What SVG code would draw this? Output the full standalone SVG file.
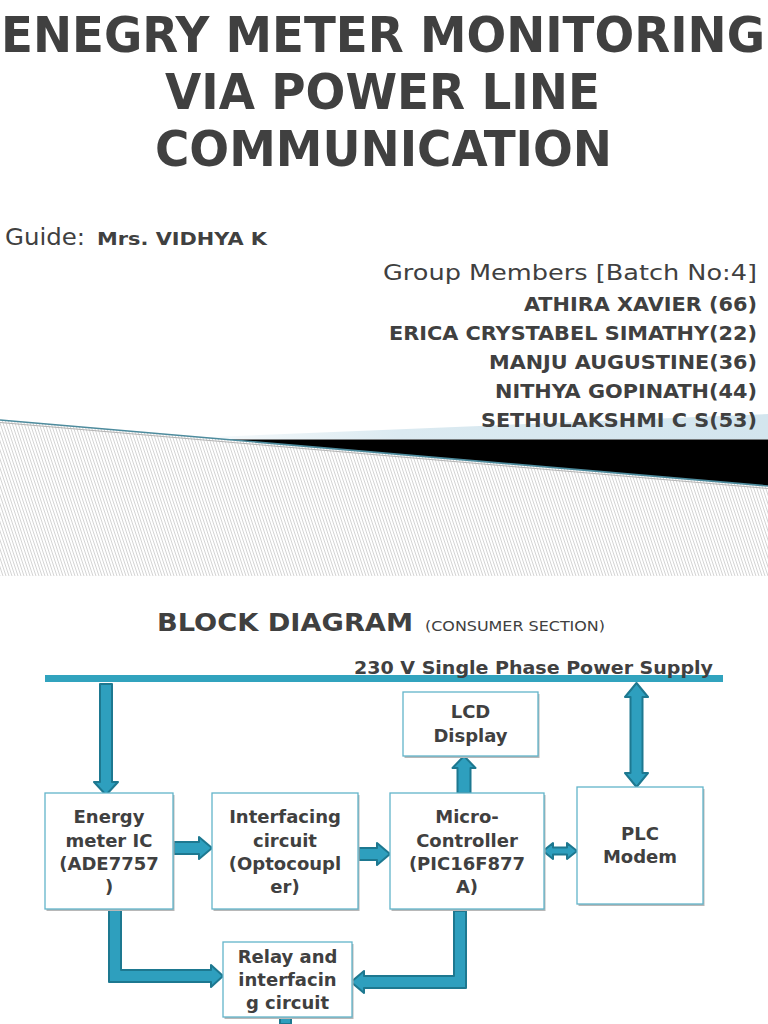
<svg xmlns="http://www.w3.org/2000/svg" width="768" height="1024" viewBox="0 0 768 1024">
<defs>
<style>
.t{font-family:"DejaVu Sans","Liberation Sans",sans-serif;fill:#404040}
.tc{font-family:"DejaVu Sans Condensed","DejaVu Sans","Liberation Sans",sans-serif;font-weight:bold;fill:#404040}
.b{font-weight:bold}
.node rect.box{fill:#fff;stroke:#62b4ca;stroke-width:1.3}
.node rect.sh{fill:#b8b8b8}
.node text{font-family:"DejaVu Sans","Liberation Sans",sans-serif;font-weight:bold;font-size:18px;fill:#404040;text-anchor:middle}
.arr{fill:#2e9fbe;stroke:#1d7890;stroke-width:2;stroke-linejoin:round}
</style>
<pattern id="hatch" patternUnits="userSpaceOnUse" width="3" height="9">
<rect width="3" height="9" fill="#ffffff"/>
<path d="M-1,-3 L3,9 M2,-3 L6,9 M-4,-3 L0,9" stroke="#cfcfcf" stroke-width="0.9"/>
</pattern>
<linearGradient id="lb" x1="0" y1="0" x2="1" y2="0">
<stop offset="0" stop-color="#ffffff"/>
<stop offset="0.4" stop-color="#dbeaf1"/>
<stop offset="1" stop-color="#d3e5ee"/>
</linearGradient>
</defs>
<rect width="768" height="1024" fill="#ffffff"/>

<!-- decorative band -->
<g id="band">
<polygon points="150,439.5 768,414 768,439.5" fill="url(#lb)"/>
<polygon points="0,420 768,486 768,576 0,576" fill="url(#hatch)"/>
<polygon points="227,439.5 768,439.5 768,486" fill="#000000"/>
<line x1="0" y1="420" x2="768" y2="486" stroke="#4d8b9d" stroke-width="1.6"/>
<line x1="0" y1="422.5" x2="768" y2="488.5" stroke="#b5b5b5" stroke-width="1"/>
</g>

<!-- Title -->
<g id="title" class="tc" font-size="49" text-anchor="middle">
<text x="383" y="52" textLength="764" lengthAdjust="spacingAndGlyphs">ENEGRY METER MONITORING</text>
<text x="382.5" y="109" textLength="435" lengthAdjust="spacingAndGlyphs">VIA POWER LINE</text>
<text x="383.5" y="166" textLength="457" lengthAdjust="spacingAndGlyphs">COMMUNICATION</text>
</g>

<g id="guide">
<text class="t" x="5" y="245" font-size="23" textLength="80" lengthAdjust="spacingAndGlyphs">Guide:</text>
<text class="t b" x="97" y="245" font-size="17" textLength="170" lengthAdjust="spacingAndGlyphs">Mrs. VIDHYA K</text>
</g>

<g id="members" text-anchor="end">
<text class="t" x="757" y="280" font-size="22" textLength="374" lengthAdjust="spacingAndGlyphs">Group Members [Batch No:4]</text>
<g class="tc" font-size="19">
<text x="757" y="311" textLength="233" lengthAdjust="spacingAndGlyphs">ATHIRA XAVIER (66)</text>
<text x="757" y="340" textLength="368" lengthAdjust="spacingAndGlyphs">ERICA CRYSTABEL SIMATHY(22)</text>
<text x="757" y="369" textLength="268" lengthAdjust="spacingAndGlyphs">MANJU AUGUSTINE(36)</text>
<text x="757" y="398" textLength="262" lengthAdjust="spacingAndGlyphs">NITHYA GOPINATH(44)</text>
<text x="757" y="427" textLength="276" lengthAdjust="spacingAndGlyphs">SETHULAKSHMI C S(53)</text>
</g>
</g>

<!-- Block diagram heading -->
<g id="heading">
<text class="t b" x="157" y="631" font-size="25" textLength="256" lengthAdjust="spacingAndGlyphs">BLOCK DIAGRAM</text>
<text class="t" x="425" y="631" font-size="14" textLength="180" lengthAdjust="spacingAndGlyphs">(CONSUMER SECTION)</text>
</g>

<g id="supply">
<rect x="45" y="675" width="678" height="7" fill="#31a3be"/>
<text class="t b" x="354" y="674" font-size="17.5" textLength="359" lengthAdjust="spacingAndGlyphs">230 V Single Phase Power Supply</text>
</g>

<!-- Connectors -->
<g id="connectors">
<path class="arr" d="M100,684 H112 V782 H118 L106,795 L94,782 H100 Z"/>
<path class="arr" d="M174,842 H199 V837 L212,848 L199,859 V854 H174 Z"/>
<path class="arr" d="M359,848 H377 V843 L390,854 L377,865 V860 H359 Z"/>
<path class="arr" d="M543,851 L553,843 V847.5 H567 V843 L577,851 L567,859 V854.5 H553 V859 Z"/>
<path class="arr" d="M457.5,793 V768 H452.5 L464,756 L475.5,768 H470.5 V793 Z"/>
<path class="arr" d="M636.5,683 L648,697 H642.5 V773 H648 L636.5,787 L625,773 H630.5 V697 H625 Z"/>
<path class="arr" d="M109,908 H121 V970 H211 V965 L223,976 L211,987 V982 H109 Z"/>
<path class="arr" d="M454,911 H466 V988 H364 V993 L351,982 L364,971 V976 H454 Z"/>
<path class="arr" d="M280,1024 V1017 Q280,1015 282,1015 H289 Q291,1015 291,1017 V1024 Z"/>
</g>

<!-- Nodes -->
<g id="energy" class="node">
<rect class="sh" x="46.5" y="795" width="128" height="116"/>
<rect class="box" x="45" y="793" width="128" height="116"/>
<text x="109" y="823">Energy</text>
<text x="109" y="847">meter IC</text>
<text x="109" y="870">(ADE7757</text>
<text x="109" y="893">)</text>
</g>
<g id="interfacing" class="node">
<rect class="sh" x="213.5" y="795" width="146" height="116"/>
<rect class="box" x="212" y="793" width="146" height="116"/>
<text x="285" y="823">Interfacing</text>
<text x="285" y="847">circuit</text>
<text x="285" y="870">(Optocoupl</text>
<text x="285" y="893">er)</text>
</g>
<g id="micro" class="node">
<rect class="sh" x="391.5" y="795" width="154" height="116"/>
<rect class="box" x="390" y="793" width="154" height="116"/>
<text x="467" y="823">Micro-</text>
<text x="467" y="847">Controller</text>
<text x="467" y="870">(PIC16F877</text>
<text x="467" y="893">A)</text>
</g>
<g id="plc" class="node">
<rect class="sh" x="578.5" y="789" width="126" height="117"/>
<rect class="box" x="577" y="787" width="126" height="117"/>
<text x="640" y="840">PLC</text>
<text x="640" y="863">Modem</text>
</g>
<g id="lcd" class="node">
<rect class="sh" x="404.5" y="694" width="135" height="64"/>
<rect class="box" x="403" y="692" width="135" height="64"/>
<text x="470.5" y="718">LCD</text>
<text x="470.5" y="742">Display</text>
</g>
<g id="relay" class="node">
<rect class="sh" x="224.5" y="944" width="129" height="75"/>
<rect class="box" x="223" y="942" width="129" height="75"/>
<text x="287.5" y="963">Relay and</text>
<text x="287.5" y="986">interfacin</text>
<text x="287.5" y="1009">g circuit</text>
</g>
</svg>
